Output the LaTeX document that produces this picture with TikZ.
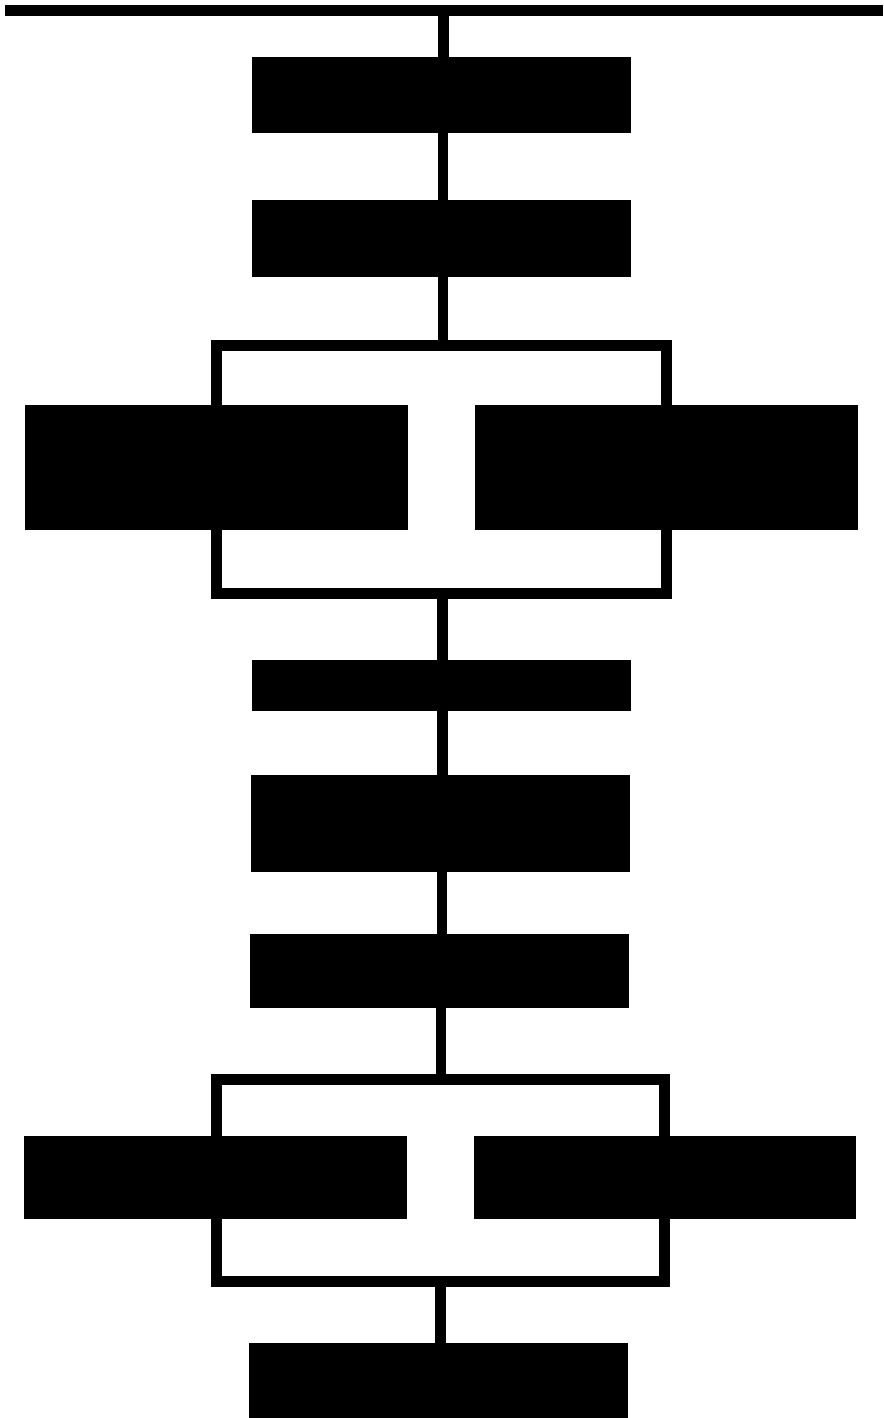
\documentclass[tikz,border=0pt]{standalone}
\begin{document}
\begin{tikzpicture}[x=1pt,y=-1pt,
  blk/.style={rectangle,fill=black,draw=none,inner sep=0pt,outer sep=0pt},
  loopbox/.style={rectangle,draw=black,line width=11pt,fill=none,inner sep=0pt},
  conn/.style={draw=black,line width=10.5pt}]
\useasboundingbox (0,0) rectangle (883,1418);
% top bus
\coordinate (tl) at (5,10.5);
\coordinate (tr) at (883,10.5);
\draw[line width=11pt] (tl) -- (tr);
% containers
\node[loopbox,minimum width=450pt,minimum height=248pt] (c1) at (441,469) {};
\node[loopbox,minimum width=447.5pt,minimum height=202pt] (c2) at (440.25,1180.5) {};
% boxes
\node[blk,minimum width=379pt,minimum height=76pt] (b1) at (441.5,95) {};
\node[blk,minimum width=379pt,minimum height=77pt] (b2) at (441.5,238.5) {};
\node[blk,minimum width=383pt,minimum height=125pt] (l1) at (216.5,467.5) {};
\node[blk,minimum width=383pt,minimum height=125pt] (r1) at (666.5,467.5) {};
\node[blk,minimum width=379pt,minimum height=51pt] (b3) at (441.5,685.5) {};
\node[blk,minimum width=379pt,minimum height=97pt] (b4) at (440.5,823.5) {};
\node[blk,minimum width=379pt,minimum height=74pt] (b5) at (439.5,971) {};
\node[blk,minimum width=383pt,minimum height=83pt] (l2) at (215.5,1177.5) {};
\node[blk,minimum width=382pt,minimum height=83pt] (r2) at (665,1177.5) {};
\node[blk,minimum width=379pt,minimum height=77pt] (b6) at (438.5,1381.5) {};
% connectors
\coordinate (tj) at (443.5,10.5);
\draw[conn] (tj) -- (tj |- b1.north);
\draw[conn] ([xshift=1.5pt]b1.south) -- ([xshift=1.5pt]b2.north);
\draw[conn] ([xshift=1.5pt]b2.south) -- ([xshift=1.5pt]b2.south |- c1.north);
\draw[conn] ([xshift=1.5pt]c1.south) -- ([xshift=1.5pt]c1.south |- b3.north);
\draw[conn] ([xshift=1pt]b3.south) -- ([xshift=1pt]b3.south |- b4.north);
\draw[conn] ([xshift=1.5pt]b4.south) -- ([xshift=1.5pt]b4.south |- b5.north);
\draw[conn] ([xshift=1.5pt]b5.south) -- ([xshift=1.5pt]b5.south |- c2.north);
\draw[conn] (c2.south) -- (c2.south |- b6.north);
\end{tikzpicture}
\end{document}
